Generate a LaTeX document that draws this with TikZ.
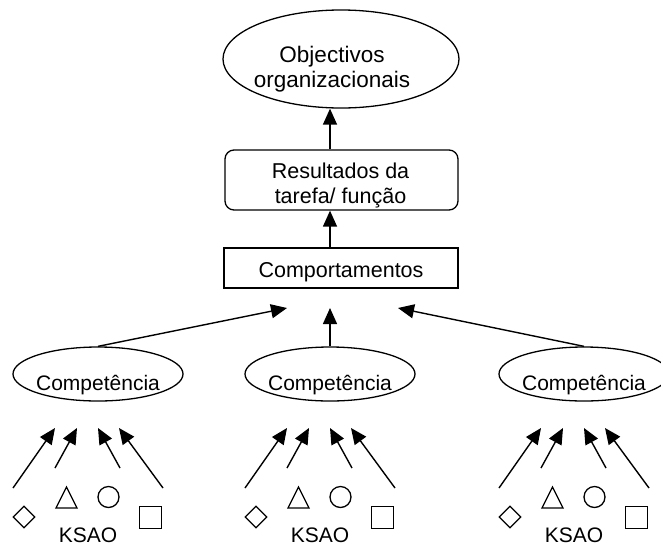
\documentclass[tikz,border=0pt]{standalone}
\usepackage{fontspec}
\setmainfont{Liberation Sans}
\usetikzlibrary{arrows.meta,shapes.geometric}

% text set inside a node without widening it: #1 lowers the baseline,
% #2 is twice the horizontal offset of the text
\newcommand\shiftedtext[3]{\raisebox{#1}[0pt][0pt]{\makebox[0pt]{\hspace*{#2}#3}}}
\newcommand\twolines[2]{\begin{tabular}[b]{@{}c@{}}#1\\#2\end{tabular}}

\tikzset{
  every node/.style={font=\fontsize{21}{25}\selectfont},
  link/.style={line width=1.4pt, -{Triangle[length=16pt,width=14pt]}},
  outline/.style={draw, line width=1.3pt, inner sep=0pt},
  goal/.style={outline, ellipse, minimum width=236pt, minimum height=98pt,
    font=\fontsize{22.5}{25}\selectfont},
  result/.style={outline, rectangle, rounded corners=9pt, minimum width=233pt, minimum height=60pt,
    font=\fontsize{21.5}{25}\selectfont},
  behaviour/.style={outline, rectangle, minimum width=234pt, minimum height=40pt,
    font=\fontsize{21.5}{25}\selectfont},
  competence/.style={outline, ellipse, minimum width=170pt, minimum height=54pt},
  markdiamond/.style={outline, diamond, minimum width=22pt, minimum height=22pt},
  markcircle/.style={outline, circle, minimum size=21pt},
  marksquare/.style={outline, rectangle, minimum size=22pt},
  marktriangle/.style={draw, line width=1.3pt, line join=miter},
}

\begin{document}
\begin{tikzpicture}[x=1pt, y=-1pt]
  \clip (0,0) rectangle (661,547);

  % upper column
  \node[goal] (obj) at (341,59)
    {\shiftedtext{-28pt}{-18pt}{\twolines{Objectivos}{organizacionais}}};
  \node[result] (res) at (341.5,180)
    {\shiftedtext{-23pt}{-2pt}{\twolines{Resultados da}{tarefa/ função}}};
  \node[behaviour] (comp) at (341,268)
    {\shiftedtext{-9pt}{0pt}{Comportamentos}};

  \coordinate (spine) at (330,0);
  \draw[link] (comp.north -| spine) -- (res.south -| spine);
  \draw[link] (res.north -| spine) -- (obj.south -| spine);

  % competences and their links to behaviour
  \coordinate (t1) at (287,308);
  \coordinate (t2) at (330,308);
  \coordinate (t3) at (398,308);

  \foreach \gx [count=\i] in {98,330,584} {
    \node[competence] (c\i) at (\gx,374)
      {\shiftedtext{-16pt}{0pt}{Competência}};
    \draw[link] (c\i.north) -- (t\i);

    % KSAO markers
    \node[markdiamond] (d\i) at (\gx-74,517) {};
    \draw[marktriangle] (\gx-42,508) -- (\gx-31.5,487) -- (\gx-21,508) -- cycle;
    \node[markcircle] (o\i) at (\gx+10.5,497) {};
    \node[marksquare] (s\i) at (\gx+52.5,517.5) {};
    \node[anchor=base, inner sep=0pt] (k\i) at (\gx-10,542.5) {KSAO};

    \foreach \sx/\sy/\tx [count=\j] in {-85/488/-43, -43/468/-21, 22/468/0, 65/488/21} {
      \coordinate (p\i\j) at (\gx+\sx,\sy);
      \coordinate (q\i\j) at (\gx+\tx,428);
      \draw[link] (p\i\j) -- (q\i\j);
    }
  }
\end{tikzpicture}
\end{document}
